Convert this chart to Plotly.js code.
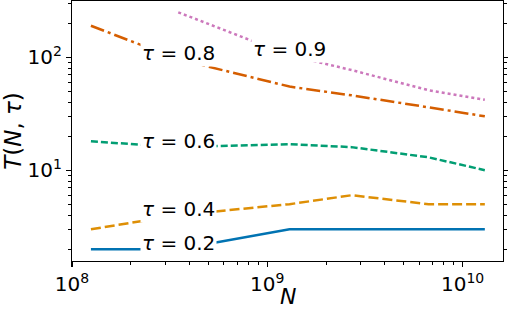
<!DOCTYPE html>
<html>
<head>
<meta charset="utf-8">
<script src="https://cdn.plot.ly/plotly-3.0.1.min.js"></script>
<style>html,body{margin:0;padding:0;background:#fff;}#chart{width:508px;height:310px;}</style>
</head>
<body>
<div id="chart"></div>
<script>
// Model sizes (number of parameters)
const N = [1.25e8, 3.5e8, 1.3e9, 2.7e9, 6.7e9, 1.3e10];
// T(N, tau) for each tau
const tau02 = [2, 2, 3, 3, 3, 3];
const tau04 = [3, 4, 5, 6, 5, 5];
const tau06 = [18, 16, 17, 16, 13, 10];
const tau08 = [190, 96, 55, 46, 36, 30];
const tau09 = [null, 250, 104, 77, 51, 42];
const seriesNames = ["τ = 0.2", "τ = 0.4", "τ = 0.6", "τ = 0.8", "τ = 0.9"];
const labelText = ["<i>τ</i> = 0.2", "<i>τ</i> = 0.4", "<i>τ</i> = 0.6", "<i>τ</i> = 0.8", "<i>τ</i> = 0.9"];
const labelAt = [1, 1, 1, 1, 2]; // index of N where the inline label sits
const xTickVals = [1e8, 1e9, 1e10];
const xTickText = ["10<sup>8</sup>", "10<sup>9</sup>", "10<sup>10</sup>"];
const yTickVals = [10, 100];
const yTickText = ["10<sup>1</sup>", "10<sup>2</sup>"];
const xTitle = "<i>N</i>";
const yTitle = "<i>T</i>(<i>N</i>, <i>τ</i>)";

const series = [tau02, tau04, tau06, tau08, tau09];
const colors = ["#0173b2", "#de8f05", "#029e73", "#d55e00", "#cc78bc"];
const dashes = ["solid", "10px,4px", "7px,3px", "14px,4px,3px,4px", "3px,3px"];

function minorTicks(lo, hi) {
  const out = [];
  for (let e = lo; e <= hi; e++) {
    for (let m = 2; m <= 9; m++) out.push(m * Math.pow(10, e));
  }
  return out;
}

const traces = series.map((ys, i) => ({
  x: N, y: ys, type: "scatter", mode: "lines", name: seriesNames[i],
  line: {color: colors[i], width: 2.5, dash: dashes[i]},
  connectgaps: false, showlegend: false, hoverinfo: "skip"
}));

const font = {family: "DejaVu Sans, sans-serif", color: "#000"};

const annotations = series.map((ys, i) => ({
  x: Math.log10(N[labelAt[i]]), y: Math.log10(ys[labelAt[i]]),
  xref: "x", yref: "y", text: labelText[i], showarrow: false,
  font: Object.assign({}, font, {size: 20}),
  bgcolor: "#ffffff", borderpad: 1, yshift: 6,
  xanchor: "center", yanchor: "middle"
}));
// x-axis title placed as a paper annotation below the tick labels
annotations.push({
  x: 0.5, y: 0, xref: "paper", yref: "paper", text: xTitle, showarrow: false,
  font: Object.assign({}, font, {size: 22}), borderpad: 0,
  xanchor: "center", yanchor: "top", yshift: -22
});

const axisCommon = {
  type: "log", showline: true, linecolor: "#000", linewidth: 1.2,
  mirror: "allticks", ticks: "outside", ticklen: 5, tickwidth: 1.2, tickcolor: "#000",
  showgrid: false, zeroline: false, tickmode: "array",
  tickfont: Object.assign({}, font, {size: 20})
};

const layout = {
  width: 508, height: 310,
  margin: {l: 72, r: 5, t: 1, b: 49},
  paper_bgcolor: "#fff", plot_bgcolor: "#fff",
  font: font,
  showlegend: false,
  xaxis: Object.assign({}, axisCommon, {
    range: [8, 10.207],
    tickvals: xTickVals, ticktext: xTickText,
    minor: {tickmode: "array", tickvals: minorTicks(8, 10), ticks: "outside", ticklen: 3, tickwidth: 1, tickcolor: "#000", showgrid: false}
  }),
  yaxis: Object.assign({}, axisCommon, {
    range: [Math.log10(1.57), 2.498],
    tickvals: yTickVals, ticktext: yTickText,
    minor: {tickmode: "array", tickvals: minorTicks(0, 2), ticks: "outside", ticklen: 3, tickwidth: 1, tickcolor: "#000", showgrid: false},
    title: {text: yTitle, font: Object.assign({}, font, {size: 23}), standoff: 4}
  }),
  annotations: annotations
};

Plotly.newPlot("chart", traces, layout, {staticPlot: true, displayModeBar: false});
</script>
</body>
</html>
